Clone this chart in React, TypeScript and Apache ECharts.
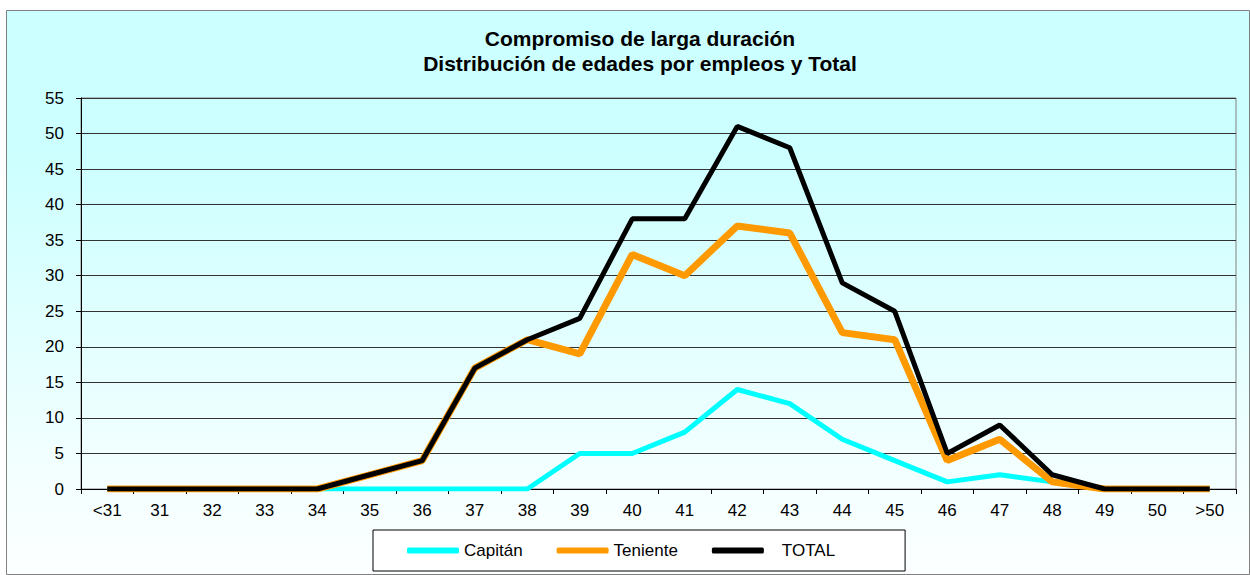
import React, { useEffect, useRef } from "react";
import * as echarts from "echarts";

const categories = ["<31", "31", "32", "33", "34", "35", "36", "37", "38", "39", "40", "41", "42", "43", "44", "45", "46", "47", "48", "49", "50", ">50"];
const capitan = [0, 0, 0, 0, 0, 0, 0, 0, 0, 5, 5, 8, 14, 12, 7, 4, 1, 2, 1, 0, 0, 0];
const teniente = [0, 0, 0, 0, 0, 2, 4, 17, 21, 19, 33, 30, 37, 36, 22, 21, 4, 7, 1, 0, 0, 0];
const total = [0, 0, 0, 0, 0, 2, 4, 17, 21, 24, 38, 38, 51, 48, 29, 25, 5, 9, 2, 0, 0, 0];
const yTicks = { min: 0, max: 55, interval: 5 };

const FONT = "Liberation Sans, Arial, sans-serif";

export default function App() {
  const ref = useRef<HTMLDivElement>(null);
  useEffect(() => {
    if (!ref.current) return;
    const chart = echarts.init(ref.current, null, { renderer: "svg" });
    chart.setOption({
      animation: false,
      graphic: [
        {
          type: "rect",
          z: -10,
          silent: true,
          shape: { x: 6.5, y: 10.5, width: 1243, height: 564 },
          style: {
            fill: new echarts.graphic.LinearGradient(0, 0, 0, 1, [
              { offset: 0, color: "#CCFFFF" },
              { offset: 0.25, color: "#CCFFFF" },
              { offset: 0.8, color: "#F2FFFF" },
              { offset: 1, color: "#FCFFFF" },
            ]),
            stroke: "#808080",
            lineWidth: 1,
          },
        },
      ],
      title: {
        text: "Compromiso de larga duración\nDistribución de edades por empleos y Total",
        left: 640,
        top: 26,
        padding: 0,
        textAlign: "center",
        textStyle: { fontFamily: FONT, fontSize: 21, fontWeight: "bold", color: "#000", lineHeight: 25 },
      },
      grid: {
        left: 81,
        right: 14,
        top: 98,
        bottom: 86,
        show: true,
        borderColor: "#808080",
        borderWidth: 1,
        backgroundColor: "transparent",
        containLabel: false,
      },
      legend: {
        left: 373,
        top: 530,
        padding: [12, 70, 12, 34],
        itemGap: 34,
        itemWidth: 52,
        itemHeight: 6,
        icon: "roundRect",
        backgroundColor: "#FFFFFF",
        borderColor: "#000",
        borderWidth: 1,
        borderRadius: 0,
        data: ["Capitán", "Teniente", "TOTAL"],
        formatter: (name: string) => (name === "TOTAL" ? "{t|TOTAL}" : name),
        textStyle: {
          fontFamily: FONT,
          fontSize: 17,
          color: "#000",
          rich: { t: { fontFamily: FONT, fontSize: 17, color: "#000", padding: [0, 0, 0, 13] } },
        },
      },
      xAxis: {
        type: "category",
        data: categories,
        boundaryGap: true,
        axisLine: { show: true, lineStyle: { color: "#000", width: 1 } },
        axisTick: { show: true, length: 5, inside: false, lineStyle: { color: "#000" } },
        axisLabel: { fontFamily: FONT, fontSize: 17, color: "#000", margin: 13, interval: 0 },
        splitLine: { show: false },
      },
      yAxis: {
        type: "value",
        min: yTicks.min,
        max: yTicks.max,
        interval: yTicks.interval,
        axisLine: { show: true, lineStyle: { color: "#000", width: 1 } },
        axisTick: { show: true, length: 5, inside: false, lineStyle: { color: "#000" } },
        axisLabel: { fontFamily: FONT, fontSize: 17, color: "#000", margin: 17 },
        splitLine: { show: true, lineStyle: { color: "#333333", width: 1 } },
      },
      series: [
        {
          name: "Capitán",
          type: "line",
          data: capitan,
          symbol: "none",
          z: 2,
          lineStyle: { color: "#00FFFF", width: 5 },
          itemStyle: { color: "#00FFFF" },
        },
        {
          name: "Teniente",
          type: "line",
          data: teniente,
          symbol: "none",
          z: 3,
          lineStyle: { color: "#FF9900", width: 7 },
          itemStyle: { color: "#FF9900" },
        },
        {
          name: "TOTAL",
          type: "line",
          data: total,
          symbol: "none",
          z: 4,
          lineStyle: { color: "#000000", width: 5 },
          itemStyle: { color: "#000000" },
        },
      ],
    });
    return () => chart.dispose();
  }, []);
  return (
    <div
      ref={ref}
      style={{ position: "absolute", left: 0, top: 0, width: 1250, height: 575 }}
    />
  );
}
